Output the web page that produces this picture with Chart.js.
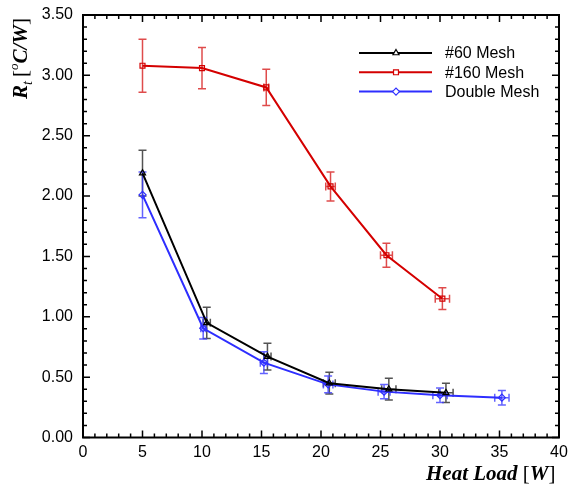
<!DOCTYPE html>
<html>
<head>
<meta charset="utf-8">
<script src="https://cdn.jsdelivr.net/npm/chart.js@4.4.1/dist/chart.umd.min.js"></script>
<style>
  html, body { margin: 0; padding: 0; background: #fff; }
  canvas { display: block; }
</style>
</head>
<body>
<canvas id="rtChart" width="569" height="486"></canvas>
<script>
// heat load [W] and thermal resistance [oC/W]
const load60 = [5.0, 10.4, 15.5, 20.7, 25.7, 30.5];
const rt60 = [2.19, 0.95, 0.67, 0.45, 0.40, 0.37];
const rt60Err = [0.19, 0.13, 0.11, 0.09, 0.09, 0.08];
const load60Err = [0, 0.3, 0.3, 0.5, 0.6, 0.6];

const load160 = [5.0, 10.0, 15.4, 20.8, 25.5, 30.2];
const rt160 = [3.08, 3.06, 2.90, 2.08, 1.51, 1.15];
const rt160Err = [0.22, 0.17, 0.15, 0.12, 0.10, 0.09];
const load160Err = [0, 0, 0.2, 0.4, 0.5, 0.6];

const loadDbl = [5.0, 10.1, 15.2, 20.6, 25.3, 30.0, 35.2];
const rtDbl = [2.01, 0.905, 0.62, 0.44, 0.38, 0.35, 0.33];
const rtDblErr = [0.19, 0.09, 0.09, 0.07, 0.06, 0.06, 0.06];
const loadDblErr = [0, 0.2, 0.3, 0.4, 0.5, 0.6, 0.6];

const seriesNames = ['#60 Mesh', '#160 Mesh', 'Double Mesh'];

function toPoints(xs, ys) {
    return xs.map((x, i) => ({ x: x, y: ys[i] }));
}

// error bars, drawn from the scales
const errorBars = {
    id: 'errorBars',
    beforeDatasetsDraw(chart) {
        const ctx = chart.ctx;
        const xs = chart.scales.x, ys = chart.scales.y;
        chart.data.datasets.forEach((ds, di) => {
            const meta = chart.getDatasetMeta(di);
            ctx.save();
            ctx.strokeStyle = ds.errColor;
            ctx.lineWidth = 1.5;
            meta.data.forEach((pt, i) => {
                const v = ds.data[i];
                const ey = ds.yErr[i], ex = ds.xErr[i];
                ctx.beginPath();
                if (ey) {
                    const top = ys.getPixelForValue(v.y + ey);
                    const bot = ys.getPixelForValue(v.y - ey);
                    ctx.moveTo(pt.x, top); ctx.lineTo(pt.x, bot);
                    ctx.moveTo(pt.x - 4, top); ctx.lineTo(pt.x + 4, top);
                    ctx.moveTo(pt.x - 4, bot); ctx.lineTo(pt.x + 4, bot);
                }
                if (ex) {
                    const l = xs.getPixelForValue(v.x - ex);
                    const r = xs.getPixelForValue(v.x + ex);
                    ctx.moveTo(l, pt.y); ctx.lineTo(r, pt.y);
                    ctx.moveTo(l, pt.y - 4); ctx.lineTo(l, pt.y + 4);
                    ctx.moveTo(r, pt.y - 4); ctx.lineTo(r, pt.y + 4);
                }
                ctx.stroke();
            });
            ctx.restore();
        });
    }
};

// frame, inward ticks, axis titles and legend
const frameAndText = {
    id: 'frameAndText',
    afterDraw(chart) {
        const ctx = chart.ctx;
        const a = chart.chartArea;
        const xs = chart.scales.x, ys = chart.scales.y;
        ctx.save();
        ctx.strokeStyle = '#000';
        ctx.lineWidth = 2;
        ctx.strokeRect(a.left, a.top, a.right - a.left, a.bottom - a.top);

        ctx.lineWidth = 1.5;
        ctx.beginPath();
        for (let v = xs.min; v <= xs.max + 1e-9; v += 1) {
            const px = xs.getPixelForValue(v);
            const len = (Math.round(v) % 5 === 0) ? 7 : 4;
            ctx.moveTo(px, a.bottom); ctx.lineTo(px, a.bottom - len);
            ctx.moveTo(px, a.top); ctx.lineTo(px, a.top + len);
        }
        for (let k = 0; k <= 35; k++) {
            const v = k / 10;
            const py = ys.getPixelForValue(v);
            const len = (k % 5 === 0) ? 7 : 4;
            ctx.moveTo(a.left, py); ctx.lineTo(a.left + len, py);
            ctx.moveTo(a.right, py); ctx.lineTo(a.right - len, py);
        }
        ctx.stroke();

        // y title
        ctx.fillStyle = '#000';
        ctx.translate(27, 99);
        ctx.rotate(-Math.PI / 2);
        ctx.textBaseline = 'alphabetic';
        let x = 0;
        ctx.font = 'bold italic 21px "Liberation Serif"';
        ctx.fillText('R', x, 0); x += ctx.measureText('R').width;
        ctx.font = 'italic 14px "Liberation Serif"';
        ctx.fillText('t', x, 5); x += ctx.measureText('t').width + 4;
        ctx.font = '21px "Liberation Serif"';
        ctx.fillText('[', x, 0); x += ctx.measureText('[').width;
        ctx.font = 'italic 13px "Liberation Serif"';
        ctx.fillText('o', x, -9); x += ctx.measureText('o').width;
        ctx.font = 'bold italic 21px "Liberation Serif"';
        ctx.fillText('C/W', x, 0); x += ctx.measureText('C/W').width;
        ctx.font = '21px "Liberation Serif"';
        ctx.fillText(']', x, 0);
        ctx.setTransform(1, 0, 0, 1, 0, 0);

        // x title
        x = 426;
        ctx.font = 'bold italic 21px "Liberation Serif"';
        ctx.fillText('Heat Load', x, 480); x += ctx.measureText('Heat Load ').width;
        ctx.font = '21px "Liberation Serif"';
        ctx.fillText('[', x, 480); x += ctx.measureText('[').width;
        ctx.font = 'bold italic 21px "Liberation Serif"';
        ctx.fillText('W', x, 480); x += ctx.measureText('W').width;
        ctx.font = '21px "Liberation Serif"';
        ctx.fillText(']', x, 480);

        // legend
        ctx.font = '16px "Liberation Sans"';
        ctx.textBaseline = 'middle';
        chart.data.datasets.forEach((ds, i) => {
            const y = 53 + i * 19.3;
            ctx.strokeStyle = ds.borderColor;
            ctx.lineWidth = 2;
            ctx.beginPath();
            ctx.moveTo(359, y); ctx.lineTo(432, y);
            ctx.stroke();
            ctx.fillStyle = '#fff';
            ctx.lineWidth = 1.2;
            Chart.helpers.drawPoint(ctx, {
                pointStyle: ds.pointStyle, radius: ds.pointRadius, borderWidth: 1.2
            }, 396, y);
            ctx.fillStyle = '#000';
            ctx.fillText(ds.label, 445, y + 1);
        });
        ctx.restore();
    }
};

function makeSet(label, xs, ys, yErr, xErr, color, errColor, style) {
    return {
        label: label,
        data: toPoints(xs, ys),
        yErr: yErr,
        xErr: xErr,
        errColor: errColor,
        borderColor: color,
        backgroundColor: 'rgba(255,255,255,0)',
        borderWidth: 2,
        pointStyle: style,
        pointRadius: 3.5,
        pointBorderWidth: 1.2,
        pointBorderColor: color,
        pointBackgroundColor: 'rgba(255,255,255,0)',
        tension: 0,
        showLine: true
    };
}

document.addEventListener('DOMContentLoaded', () => {
    const ctx = document.getElementById('rtChart').getContext('2d');
    new Chart(ctx, {
        type: 'scatter',
        data: {
            datasets: [
                makeSet(seriesNames[0], load60, rt60, rt60Err, load60Err, '#000000', 'rgba(40,40,40,0.8)', 'triangle'),
                makeSet(seriesNames[1], load160, rt160, rt160Err, load160Err, '#d40000', 'rgba(215,30,30,0.8)', 'rect'),
                makeSet(seriesNames[2], loadDbl, rtDbl, rtDblErr, loadDblErr, '#2e2eff', 'rgba(60,60,255,0.8)', 'rectRot')
            ]
        },
        options: {
            responsive: false,
            animation: false,
            layout: { padding: { left: 0, top: 15, right: 10, bottom: 0 } },
            plugins: {
                legend: { display: false },
                tooltip: { enabled: false }
            },
            scales: {
                x: {
                    type: 'linear',
                    min: 0, max: 40,
                    grid: { display: false, drawTicks: false },
                    border: { display: false },
                    ticks: {
                        stepSize: 5, padding: 5, color: '#000',
                        font: { family: '"Liberation Sans"', size: 16 }
                    },
                    afterFit(scale) {
                        scale.height = 48.5;
                        scale.paddingLeft = 0;
                        scale.paddingRight = 0;
                    }
                },
                y: {
                    type: 'linear',
                    min: 0, max: 3.5,
                    grid: { display: false, drawTicks: false },
                    border: { display: false },
                    ticks: {
                        stepSize: 0.5, padding: 10, color: '#000',
                        font: { family: '"Liberation Sans"', size: 16 },
                        callback: v => v.toFixed(2)
                    },
                    afterFit(scale) {
                        scale.width = 83;
                        scale.paddingTop = 0;
                        scale.paddingBottom = 0;
                    }
                }
            }
        },
        plugins: [errorBars, frameAndText]
    });
});
</script>
</body>
</html>
